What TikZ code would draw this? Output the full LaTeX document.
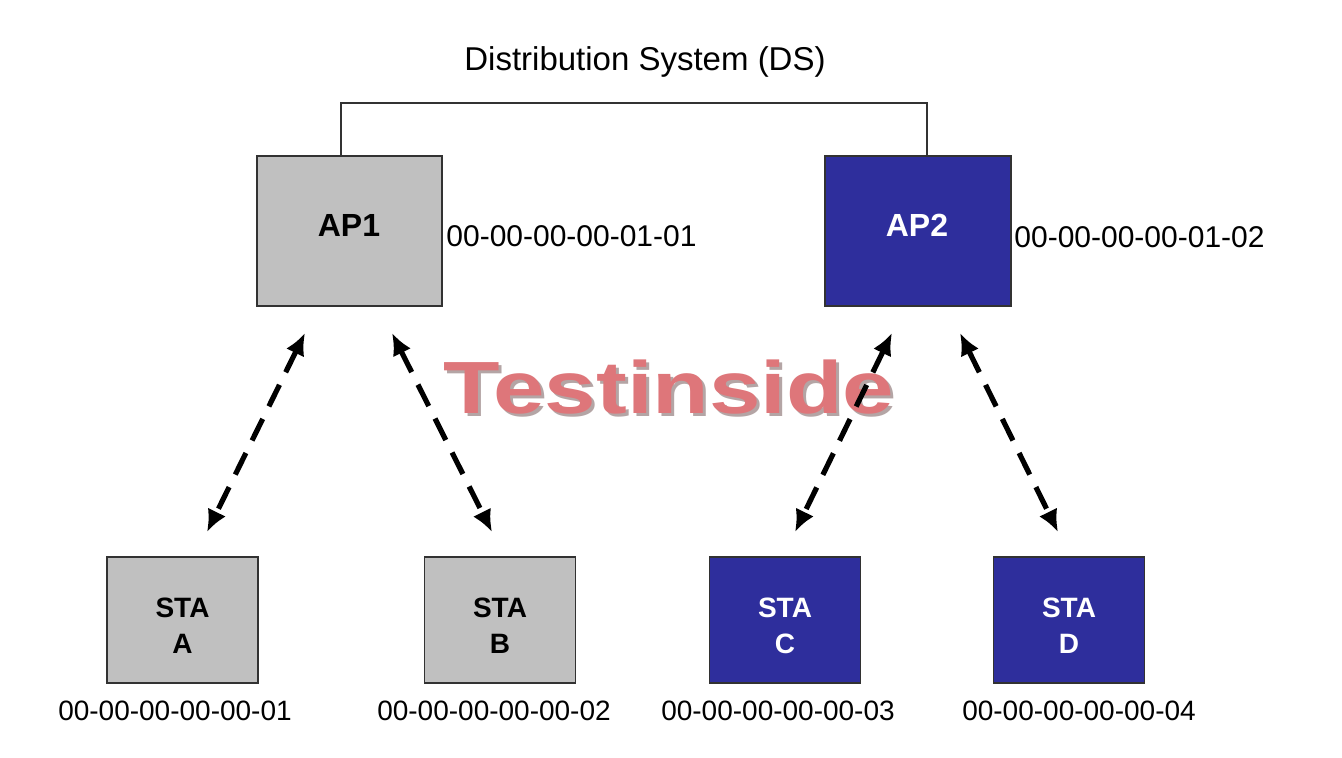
\documentclass[tikz,border=0pt]{standalone}
\usepackage{fontspec}
\setmainfont{Liberation Sans}
\usetikzlibrary{arrows.meta}
\definecolor{apgray}{RGB}{192,192,192}
\definecolor{apblue}{RGB}{46,46,156}
\definecolor{edgecol}{RGB}{50,50,50}
\definecolor{wmred}{RGB}{222,118,122}
\definecolor{wmshadow}{RGB}{180,165,165}
\begin{document}
\begin{tikzpicture}[x=0.5pt,y=-0.5pt,
  box/.style={draw=edgecol, line width=0.9pt, inner sep=0pt},
  graybox/.style={box, fill=apgray},
  bluebox/.style={box, fill=apblue},
  apbox/.style={minimum width=92.5pt, minimum height=75pt},
  stabox/.style={minimum width=75.5pt, minimum height=63pt},
  aplbl/.style={font=\fontsize{16}{19}\selectfont\bfseries, inner sep=0pt},
  stalbl/.style={font=\fontsize{14}{18}\selectfont\bfseries, align=center, inner sep=0pt},
  mac/.style={font=\fontsize{14}{17}\selectfont, inner sep=0pt},
  apmac/.style={font=\fontsize{15}{18}\selectfont, inner sep=0pt},
  link/.style={line width=2.6pt, dash pattern=on 12pt off 7pt,
    {Latex[length=11pt,width=10pt]}-{Latex[length=11pt,width=10pt]}},
  dsline/.style={line width=0.9pt, draw=edgecol}]

\fill[white] (0,0) rectangle (1342,758);
\useasboundingbox (0,0) rectangle (1342,758);

% big watermark
\node[text=wmshadow, inner sep=0pt] (wmshade) at (672,390)
  {\scalebox{1.25}[1]{\fontsize{37}{42}\selectfont\bfseries Testinside}};
\node[text=wmred, inner sep=0pt] (wm) at (669,387)
  {\scalebox{1.25}[1]{\fontsize{37}{42}\selectfont\bfseries Testinside}};

% title
\node[font=\fontsize{16.5}{20}\selectfont, inner sep=0pt] (ds) at (645,62) {Distribution System (DS)};

% access points
\node[graybox, apbox] (ap1) at (349.5,231) {};
\node[bluebox, apbox, minimum width=93pt] (ap2) at (918,231) {};
\node[aplbl] (ap1lbl) at (349,225) {AP1};
\node[aplbl, text=white] (ap2lbl) at (917,225) {AP2};
\node[apmac, anchor=west] (ap1mac) at (446,236) {00-00-00-00-01-01};
\node[apmac, anchor=west] (ap2mac) at (1014,237) {00-00-00-00-01-02};

% DS line
\draw[dsline] ([xshift=-4.25pt]ap1.north) -- ++(0,-52) -| ([xshift=4.5pt]ap2.north);

% stations
\node[graybox, stabox] (staA) at (182.5,620) {};
\node[graybox, stabox] (staB) at (500,620) {};
\node[bluebox, stabox] (staC) at (785,620) {};
\node[bluebox, stabox] (staD) at (1069,620) {};
\node[stalbl] (staAlbl) at (182.5,626) {STA\\A};
\node[stalbl] (staBlbl) at (500,626) {STA\\B};
\node[stalbl, text=white] (staClbl) at (785,626) {STA\\C};
\node[stalbl, text=white] (staDlbl) at (1069,626) {STA\\D};
\node[mac] (staAmac) at (175,711) {00-00-00-00-00-01};
\node[mac] (staBmac) at (494,711) {00-00-00-00-00-02};
\node[mac] (staCmac) at (778,711) {00-00-00-00-00-03};
\node[mac] (staDmac) at (1079,711) {00-00-00-00-00-04};

% link end points
\coordinate (a1t) at (305,333);
\coordinate (a1b) at (207,532);
\coordinate (a2t) at (392,333);
\coordinate (a2b) at (492,532);
\coordinate (a3t) at (892,333);
\coordinate (a3b) at (795,532);
\coordinate (a4t) at (960,333);
\coordinate (a4b) at (1058,532);

\draw[link] (a1t) -- (a1b);
\draw[link] (a2t) -- (a2b);
\draw[link] (a3t) -- (a3b);
\draw[link] (a4t) -- (a4b);
\end{tikzpicture}
\end{document}
